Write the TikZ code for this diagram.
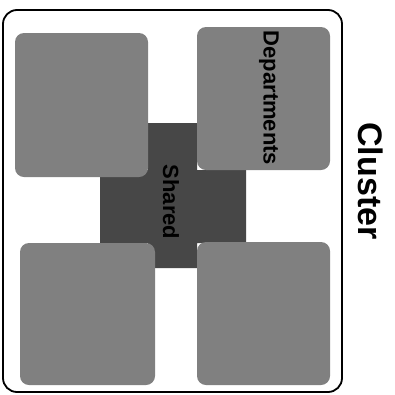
\documentclass[tikz,border=0pt]{standalone}
\usepackage{fontspec}
\setmainfont{Liberation Sans}
\begin{document}
\begin{tikzpicture}[x=1pt,y=-1pt,
  tile/.style={fill=black!50, rounded corners=9pt},
  crossfill/.style={fill=black!72},
  lbl/.style={font=\bfseries\fontsize{22}{22}\selectfont, rotate=-90, inner sep=0pt},
  biglbl/.style={font=\bfseries\fontsize{34}{34}\selectfont, rotate=-90, inner sep=0pt}]
\useasboundingbox (0,0) rectangle (395,394);
\fill[white] (0,0) rectangle (395,394);
% cluster frame
\draw[line width=1.8pt, rounded corners=14pt] (3,10) rectangle (342,392);
% shared cross
\path[crossfill] (148,123) -- (197,123) -- (197,170) -- (246,170) -- (246,243)
  -- (197,243) -- (197,268) -- (148,268) -- (148,243) -- (100,243) -- (100,170)
  -- (148,170) -- cycle;
% department tiles
\path[tile] (15,33) rectangle (148,177);
\path[tile] (197,27) rectangle (330,170);
\path[tile] (20,243) rectangle (155,385);
\path[tile] (197,242) rectangle (330,385);
% labels
\node[lbl] (dep) at (269,98) {Departments};
\node[lbl] (sh) at (171,202) {Shared};
\node[biglbl] (cl) at (371,181) {Cluster};
\end{tikzpicture}
\end{document}
